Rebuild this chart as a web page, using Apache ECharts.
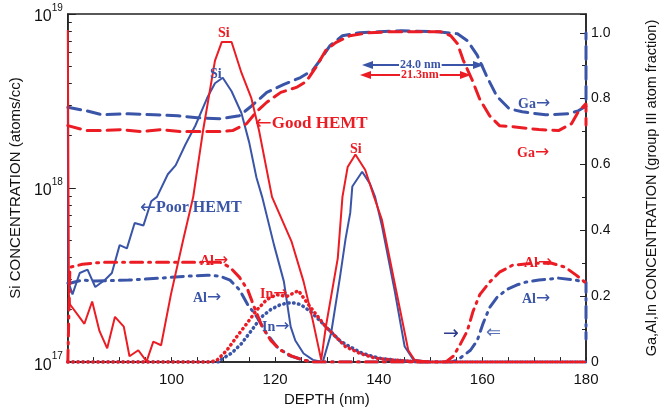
<!DOCTYPE html>
<html>
<head>
<meta charset="utf-8">
<script src="https://cdn.jsdelivr.net/npm/echarts@6/dist/echarts.min.js"></script>
<style>
  html, body { margin: 0; padding: 0; background: #fff; }
  #chart { width: 667px; height: 412px; }
</style>
</head>
<body>
<div id="chart"></div>
<script>
// Si profiles, [depth nm, atoms/cc] -> left log axis
const siGood = [
  [80, 8.1e18], [80.2, 2.45e17], [80.4, 2.15e17], [83.2, 1.66e17], [84.7, 2.23e17], [86.1, 1.51e17],
  [87.6, 1.2e17], [89.1, 1.82e17], [90.8, 1.6e17], [91.9, 1.08e17], [93.6, 1.17e17], [95.2, 1.01e17],
  [96.5, 1.31e17], [98.0, 1.25e17], [99.9, 2.45e17], [102.3, 5.1e17], [104.2, 8.9e17], [106.1, 2.14e18],
  [108.4, 5.4e18], [109.7, 6.9e18], [111.6, 6.9e18], [113.5, 4.6e18], [115.4, 3.3e18], [116.9, 2.14e18],
  [119.4, 8.9e17], [123.2, 4.9e17], [125.5, 2.9e17], [127.3, 1.72e17], [128.9, 1.03e17], [129.8, 1.6e17],
  [132.1, 3.96e17], [133.0, 8.9e17], [134.0, 1.32e18], [135.5, 1.56e18], [137.4, 1.27e18], [139.1, 8.9e17],
  [140.6, 6.6e17], [143.4, 2.55e17], [145.7, 1.17e17], [146.9, 1.03e17], [150, 1e17], [180, 1e17]
];
const siPoor = [
  [80, 2.9e18], [80.1, 2.9e17], [80.9, 2.45e17], [82.3, 3.25e17], [83.8, 3.4e17], [85.3, 2.7e17],
  [87.2, 2.97e17], [88.5, 3.25e17], [90.0, 4.7e17], [91.4, 4.5e17], [92.9, 6.3e17], [94.6, 6.1e17],
  [96.1, 8.4e17], [97.2, 8.9e17], [99.3, 1.2e18], [100.8, 1.35e18], [102.7, 1.78e18], [104.6, 2.28e18],
  [106.9, 3.3e18], [108.4, 4.0e18], [109.9, 4.3e18], [111.6, 3.6e18], [113.5, 2.7e18], [115.0, 1.83e18],
  [116.4, 1.15e18], [117.5, 8.9e17], [119.8, 4.7e17], [121.7, 2.9e17], [123.0, 1.6e17], [123.9, 1.33e17],
  [125.5, 1.12e17], [127.3, 1.03e17], [129.2, 1e17], [130.8, 1.46e17], [132.5, 3.05e17], [133.6, 5.1e17],
  [134.5, 7.2e17], [134.9, 1.02e18], [136.8, 1.24e18], [138.3, 1.06e18], [139.3, 8.9e17], [140.6, 6.1e17],
  [143.1, 2.55e17], [145.0, 1.23e17], [146.7, 1.03e17], [150, 1e17], [180, 1e17]
];
// group III fractions -> right axis
const gaGood = [
  [80, 0.718], [83.6, 0.703], [86.6, 0.703], [90.4, 0.706], [94.2, 0.700], [98.0, 0.706], [101.8, 0.700],
  [105.6, 0.700], [109.4, 0.700], [111.8, 0.703], [114.5, 0.724], [116.4, 0.760], [118.4, 0.789],
  [121.1, 0.819], [124.1, 0.834], [126.0, 0.852], [127.9, 0.896], [129.8, 0.947], [131.7, 0.970],
  [134.4, 0.991], [138.1, 1.0], [141.9, 1.003], [152.0, 1.003], [153.9, 0.991], [155.2, 0.967],
  [156.3, 0.917], [158.0, 0.858], [159.5, 0.798], [161.4, 0.748], [163.3, 0.718], [165.8, 0.715],
  [170.9, 0.706], [174.7, 0.703], [177.2, 0.724], [178.5, 0.760], [180, 0.785], [180, 0.72]
];
const gaPoor = [
  [80, 0.774], [83.6, 0.763], [86.6, 0.751], [91.7, 0.754], [96.7, 0.751], [101.2, 0.748], [105.0, 0.742],
  [109.4, 0.739], [113.1, 0.748], [115.4, 0.777], [118.4, 0.819], [121.7, 0.843], [124.9, 0.864],
  [127.3, 0.887], [128.7, 0.917], [130.6, 0.961], [133.0, 0.991], [136.3, 1.0], [140.0, 1.003],
  [144.4, 1.006], [151.4, 1.003], [155.2, 0.997], [157.1, 0.976], [159.0, 0.932], [160.9, 0.866],
  [162.8, 0.807], [165.2, 0.769], [167.7, 0.760], [172.2, 0.751], [176.6, 0.754], [178.5, 0.763],
  [180, 0.777], [180, 1.0]
];
const alGood = [
  [80, 0], [80.4, 0.288], [82.8, 0.297], [86.6, 0.303], [91.7, 0.303], [96.7, 0.303], [100.5, 0.303],
  [105.6, 0.303], [109.4, 0.303], [111.3, 0.288], [113.1, 0.258], [114.7, 0.220], [116.0, 0.166],
  [117.5, 0.107], [119.2, 0.065], [121.1, 0.036], [123.2, 0.018], [125.5, 0.006], [127.3, 0],
  [152.9, 0], [154.4, 0.018], [155.8, 0.056], [157.1, 0.095], [158.2, 0.154], [159.5, 0.205],
  [161.4, 0.243], [163.3, 0.273], [165.8, 0.294], [169.6, 0.300], [173.4, 0.300], [176.0, 0.288],
  [178.1, 0.264], [180, 0.240]
];
const alPoor = [
  [80, 0.24], [80.6, 0.240], [82.8, 0.249], [85.3, 0.246], [91.7, 0.249], [98.0, 0.255], [103.1, 0.261],
  [106.9, 0.264], [109.4, 0.261], [111.3, 0.249], [113.1, 0.220], [114.7, 0.175], [116.4, 0.139],
  [118.4, 0.086], [120.3, 0.047], [122.6, 0.021], [124.9, 0.009], [127.3, 0], [153.9, 0], [155.2, 0.006],
  [157.7, 0.036], [159.0, 0.065], [160.1, 0.116], [161.4, 0.166], [162.8, 0.196], [164.7, 0.220],
  [166.6, 0.234], [168.4, 0.243], [170.9, 0.249], [174.7, 0.255], [177.9, 0.249], [180, 0.243], [180, 0.07]
];
const inGood = [
  [80, 0], [107.5, 0], [108.8, 0.006], [110.7, 0.036], [112.6, 0.077], [114.5, 0.116], [116.4, 0.157],
  [118.4, 0.190], [120.3, 0.205], [122.2, 0.199], [124.5, 0.217], [126.0, 0.184], [127.9, 0.145],
  [129.8, 0.107], [131.7, 0.077], [133.6, 0.047], [136.3, 0.027], [139.3, 0.012], [143.1, 0.006],
  [148.2, 0], [180, 0]
];
const inPoor = [
  [80, 0], [109.2, 0], [109.7, 0.009], [111.6, 0.027], [113.5, 0.056], [115.4, 0.095], [117.3, 0.136],
  [119.2, 0.160], [121.1, 0.175], [123.2, 0.181], [124.9, 0.175], [126.8, 0.154], [128.7, 0.125],
  [130.6, 0.095], [132.5, 0.065], [134.4, 0.047], [136.8, 0.027], [140.0, 0.012], [143.1, 0.006],
  [148.2, 0], [180, 0]
];
const siMinorTicks = [2e17, 3e17, 4e17, 5e17, 6e17, 7e17, 8e17, 9e17, 2e18, 3e18, 4e18, 5e18, 6e18, 7e18, 8e18, 9e18];

const RED = '#ec1c24';
const BLUE = '#3a55a8';
const f = s => 'bold ' + s + 'px "Liberation Serif", "DejaVu Serif", serif';

const chart = echarts.init(document.getElementById('chart'));

function line(name, data, color, axis, type, width, z) {
  return {
    name, type: 'line', data, yAxisIndex: axis, showSymbol: false, symbol: 'none',
    clip: true, z: z,
    lineStyle: { color, width, type, cap: type === 'solid' ? 'butt' : 'round' }
  };
}

// label with a long arrow glyph taken from DejaVu Sans
const txt = (x, y, text, color, size) => {
  const parts = text.split('|');
  const s = parts.map((p, i) => (p === '>' || p === '<') ? '{a|' + (p === '>' ? '\u2192' : '\u2190') + '}' : '{t|' + p + '}').join('');
  return {
    type: 'text', x, y, z: 100,
    style: {
      text: s, fill: color,
      rich: {
        t: { font: f(size), fill: color, lineHeight: size + 4, verticalAlign: 'middle' },
        a: { font: (size + 3) + 'px "DejaVu Sans", sans-serif', fill: color, lineHeight: size + 4, verticalAlign: 'middle' }
      }
    }
  };
};

const option = {
  animation: false,
  grid: { left: 60, right: 79, top: 14, bottom: 43, show: true, borderColor: '#222', borderWidth: 1.5 },
  xAxis: {
    type: 'value', min: 80, max: 180, interval: 20,
    name: 'DEPTH (nm)', nameLocation: 'middle', nameGap: 28,
    nameTextStyle: { fontFamily: 'Liberation Sans', fontSize: 15, color: '#111' },
    axisLine: { lineStyle: { color: '#222', width: 1.5 } },
    axisTick: { inside: true, length: 5, lineStyle: { color: '#222' } },
    minorTick: { show: true, splitNumber: 4, length: 5, lineStyle: { color: '#222' } },
    splitLine: { show: false },
    axisLabel: {
      margin: 10, fontFamily: 'Liberation Sans', fontSize: 15, color: '#111',
      formatter: v => v === 80 ? '' : String(v)
    }
  },
  yAxis: [
    {
      type: 'log', logBase: 10, min: 1e17, max: 1e19, position: 'left',
      name: 'Si CONCENTRATION (atoms/cc)', nameLocation: 'middle', nameGap: 34, nameRotate: 90,
      nameTextStyle: { fontFamily: 'Liberation Sans', fontSize: 15, color: '#111' },
      axisLine: { show: true, lineStyle: { color: '#222', width: 1.5 } },
      axisTick: { inside: true, length: 8, lineStyle: { color: '#222' } },
      splitLine: { show: false },
      axisLabel: {
        margin: 5,
        formatter: v => '{b|10}{s|' + Math.round(Math.log10(v)) + '}',
        rich: {
          b: { fontFamily: 'Liberation Sans', fontSize: 16, color: '#111', lineHeight: 22, verticalAlign: 'bottom' },
          s: { fontFamily: 'Liberation Sans', fontSize: 10, color: '#111', lineHeight: 12, verticalAlign: 'top' }
        }
      }
    },
    {
      type: 'value', min: 0, max: 1.057, interval: 0.2, position: 'right',
      name: 'Ga,Al,In CONCENTRATION (group III atom fraction)', nameLocation: 'middle', nameGap: 58, nameRotate: 90,
      nameTextStyle: { fontFamily: 'Liberation Sans', fontSize: 14.5, color: '#111' },
      axisLine: { show: true, lineStyle: { color: '#222', width: 1.5 } },
      axisTick: { inside: true, length: 6, lineStyle: { color: '#222' } },
      minorTick: { show: true, splitNumber: 2, length: 4, lineStyle: { color: '#222' } },
      splitLine: { show: false },
      axisLabel: {
        margin: 5, fontFamily: 'Liberation Sans', fontSize: 14, color: '#111',
        formatter: v => {
          if (Math.abs(v * 5 - Math.round(v * 5)) > 1e-6) return '';
          return v === 0 ? '0' : v.toFixed(1);
        }
      }
    },
    {
      // minor decade ticks for the Si axis
      type: 'log', logBase: 10, min: 1e17, max: 1e19, position: 'left',
      axisLine: { show: false }, axisLabel: { show: false }, splitLine: { show: false },
      axisTick: { inside: true, length: 4, customValues: siMinorTicks, lineStyle: { color: '#222' } }
    }
  ],
  series: [
    line('Ga poor', gaPoor, BLUE, 1, [13, 7], 3, 2),
    line('Al poor', alPoor, BLUE, 1, [12, 6, 2, 6], 3, 2),
    line('In poor', inPoor, BLUE, 1, [0.5, 4.5], 3.5, 2),
    line('Si poor', siPoor, BLUE, 0, 'solid', 2, 3),
    line('Ga good', gaGood, RED, 1, [13, 7], 3, 4),
    line('Al good', alGood, RED, 1, [12, 6, 2, 6], 3, 4),
    line('In good', inGood, RED, 1, [0.5, 4.5], 3.5, 4),
    line('Si good', siGood, RED, 0, 'solid', 2, 5)
  ],
  graphic: [
    txt(218, 24, 'Si', RED, 14),
    txt(210, 65, 'Si', BLUE, 14),
    txt(350, 140, 'Si', RED, 14),
    txt(255, 113, '<|Good HEMT', RED, 17),
    txt(140, 198, '<|Poor HEMT', BLUE, 16),
    txt(518, 95, 'Ga|>', BLUE, 14),
    txt(517, 144, 'Ga|>', RED, 14),
    txt(200, 252, 'Al|>', RED, 14),
    txt(193, 289, 'Al|>', BLUE, 14),
    txt(260, 285, 'In|>', RED, 14),
    txt(262, 318, 'In|>', BLUE, 14),
    txt(524, 254, 'Al|>', RED, 14),
    txt(522, 290, 'Al|>', BLUE, 14),
    txt(443, 324, '>', '#2b3a8a', 16),
    { type: 'text', x: 486, y: 324, z: 100, style: { text: '\u21d0', fill: '#5a70b8', font: '18px "DejaVu Sans", sans-serif' } },
    // 24.0 nm dimension
    { type: 'line', z: 90, shape: { x1: 366, y1: 65, x2: 479, y2: 65 }, style: { stroke: BLUE, lineWidth: 2 } },
    { type: 'polygon', z: 90, shape: { points: [[362, 65], [373, 61], [373, 69]] }, style: { fill: BLUE } },
    { type: 'polygon', z: 90, shape: { points: [[484, 65], [473, 61], [473, 69]] }, style: { fill: BLUE } },
    { type: 'text', x: 399, y: 59, z: 95, style: { text: '24.0 nm', fill: BLUE, font: f(12), backgroundColor: '#fff', padding: [0, 1] } },
    // 21.3 nm dimension
    { type: 'line', z: 90, shape: { x1: 364, y1: 75, x2: 466, y2: 75 }, style: { stroke: RED, lineWidth: 2 } },
    { type: 'polygon', z: 90, shape: { points: [[360, 75], [371, 71], [371, 79]] }, style: { fill: RED } },
    { type: 'polygon', z: 90, shape: { points: [[471, 75], [460, 71], [460, 79]] }, style: { fill: RED } },
    { type: 'text', x: 400, y: 69, z: 95, style: { text: '21.3nm', fill: RED, font: f(12), backgroundColor: '#fff', padding: [0, 1] } }
  ]
};

chart.setOption(option);
window.addEventListener('resize', () => chart.resize());
</script>
</body>
</html>
